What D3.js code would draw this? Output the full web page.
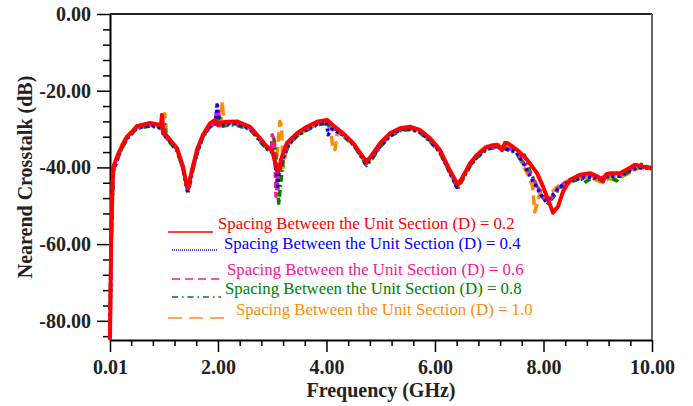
<!DOCTYPE html>
<html>
<head>
<meta charset="utf-8">
<script src="https://cdn.jsdelivr.net/npm/d3@7"></script>
<style>
  body { margin: 0; background: #fff; }
  svg { display: block; font-family: "Liberation Serif", "Times New Roman", serif; }
</style>
</head>
<body>
<div id="chart"></div>
<script>
// series values, [frequency GHz, crosstalk dB]
var d02 = [[0.01,-85],[0.03,-60],[0.065,-40],[0.194,-35.5],[0.323,-32],[0.434,-30.5],[0.508,-29.2],[0.692,-28.6],[0.747,-28.4],[0.895,-28.8],[0.95,-29],[0.968,-26.3],[0.987,-31.2],[1.04,-31.5],[1.116,-32.8],[1.245,-35],[1.356,-39.8],[1.429,-45],[1.448,-45.5],[1.522,-40.6],[1.614,-35.4],[1.724,-31.5],[1.853,-28.5],[1.946,-27.6],[2.0,-29],[2.07,-28.3],[2.167,-28.1],[2.35,-28],[2.59,-29.4],[2.775,-32.4],[2.904,-34.6],[2.996,-35.5],[3.088,-40.6],[3.107,-41.3],[3.18,-37.2],[3.27,-33.6],[3.457,-31.1],[3.64,-29.4],[3.826,-28.1],[4.01,-27.6],[4.12,-29],[4.305,-31.1],[4.49,-33.6],[4.67,-37.2],[4.73,-38.5],[4.8,-37.5],[4.99,-33.7],[5.17,-31.1],[5.356,-29.8],[5.54,-29.4],[5.72,-30.2],[5.91,-32.4],[6.09,-35.4],[6.24,-39.8],[6.37,-43.2],[6.425,-44.5],[6.517,-42.4],[6.646,-38.9],[6.775,-36.7],[6.96,-34.6],[7.144,-34.1],[7.236,-35.5],[7.29,-33.6],[7.346,-33.7],[7.512,-35.4],[7.697,-38],[7.881,-41.5],[7.992,-45],[8.084,-48.4],[8.176,-51.8],[8.268,-50.2],[8.36,-46.3],[8.49,-43.2],[8.674,-41.9],[8.858,-41.5],[9.005,-42.4],[9.097,-43.7],[9.15,-41.8],[9.226,-41.5],[9.41,-41.5],[9.595,-40.1],[9.687,-39.3],[9.835,-39.8],[10,-40.1]];

var d04 = [[0.01,-85],[0.03,-60],[0.065,-41],[0.19,-36],[0.32,-32.5],[0.5,-29.8],[0.75,-29],[0.9,-29.5],[0.97,-30],[1.0,-31.5],[1.12,-33.3],[1.25,-35.5],[1.36,-40.5],[1.44,-46.5],[1.52,-41],[1.62,-36],[1.72,-32],[1.85,-29.3],[1.95,-28.5],[1.99,-23.8],[2.02,-29],[2.17,-28.6],[2.35,-28.6],[2.6,-30],[2.78,-33],[2.9,-35],[3.0,-36],[3.05,-38],[3.1,-45],[3.13,-41],[3.2,-37.5],[3.3,-34],[3.46,-31.6],[3.65,-30],[3.83,-28.7],[4.0,-28.3],[4.03,-31.5],[4.1,-30],[4.3,-31.5],[4.5,-34],[4.67,-37.7],[4.72,-39.2],[4.8,-38],[5.0,-34.3],[5.17,-31.7],[5.36,-30.2],[5.54,-29.9],[5.72,-30.7],[5.9,-32.9],[6.09,-35.9],[6.24,-40.3],[6.4,-45.2],[6.5,-42.8],[6.65,-39.4],[6.78,-37.2],[6.96,-35],[7.14,-34.6],[7.25,-35],[7.5,-35.9],[7.65,-39.5],[7.8,-43.5],[7.95,-47],[8.05,-49],[8.15,-47.5],[8.3,-45],[8.5,-43.6],[8.7,-42.5],[8.9,-42.5],[9.05,-43],[9.2,-42.3],[9.4,-42.3],[9.6,-40.8],[9.75,-40],[10,-40.3]];

var d06 = [[0.01,-85],[0.03,-60],[0.065,-41],[0.19,-35.8],[0.32,-32.3],[0.5,-29.6],[0.75,-28.8],[0.9,-29.3],[0.96,-29.5],[0.98,-27.5],[1.0,-31],[1.12,-33.2],[1.25,-35.4],[1.36,-40.3],[1.44,-46],[1.52,-41],[1.62,-36],[1.72,-32],[1.85,-29.2],[1.95,-28.6],[1.98,-23.6],[2.01,-24.5],[2.03,-29],[2.17,-28.5],[2.35,-28.5],[2.6,-29.8],[2.78,-32.8],[2.9,-34.8],[2.98,-35.5],[3.0,-31.5],[3.04,-33],[3.07,-47.5],[3.1,-44],[3.15,-38],[3.2,-37.3],[3.3,-33.8],[3.46,-31.4],[3.65,-29.8],[3.83,-28.5],[4.0,-28.1],[4.1,-29.8],[4.3,-31.4],[4.5,-33.9],[4.67,-37.5],[4.72,-39],[4.8,-37.8],[5.0,-34.1],[5.17,-31.5],[5.36,-30],[5.54,-29.7],[5.72,-30.5],[5.9,-32.7],[6.09,-35.7],[6.24,-40.1],[6.4,-44.8],[6.5,-42.6],[6.65,-39.2],[6.78,-36.9],[6.96,-34.9],[7.14,-34.5],[7.3,-34.8],[7.5,-35.8],[7.65,-39.2],[7.8,-42.8],[7.95,-46.5],[8.05,-48.8],[8.15,-47.8],[8.3,-44.8],[8.5,-43.2],[8.7,-42.3],[8.9,-42.2],[9.05,-42.8],[9.2,-42],[9.4,-42],[9.6,-40.6],[9.75,-39.7],[10,-40.2]];

var d08 = [[0.01,-85],[0.03,-61],[0.065,-41.5],[0.19,-36.2],[0.32,-32.6],[0.5,-29.9],[0.75,-29.2],[0.9,-29.6],[0.98,-29.8],[1.01,-28.5],[1.04,-32],[1.12,-33.6],[1.25,-35.8],[1.36,-40.8],[1.45,-46.6],[1.53,-41.2],[1.62,-36.2],[1.72,-32.2],[1.85,-29.5],[1.95,-28.8],[2.03,-26.8],[2.06,-29.4],[2.2,-28.9],[2.35,-29],[2.6,-30.2],[2.78,-33.3],[2.9,-35.3],[3.0,-36.2],[3.03,-32.5],[3.07,-37],[3.12,-49.7],[3.15,-45],[3.2,-38],[3.3,-34.2],[3.46,-31.8],[3.65,-30.2],[3.83,-28.9],[4.0,-28.5],[4.08,-29.5],[4.2,-30.3],[4.3,-31.7],[4.5,-34.2],[4.67,-37.9],[4.74,-39.5],[4.82,-38.2],[5.0,-34.5],[5.17,-31.9],[5.36,-30.4],[5.54,-30.1],[5.72,-30.9],[5.9,-33.1],[6.09,-36.1],[6.24,-40.5],[6.42,-45.5],[6.52,-43],[6.65,-39.6],[6.78,-37.4],[6.96,-35.2],[7.14,-34.8],[7.3,-35.2],[7.5,-36.2],[7.6,-38.5],[7.65,-36.8],[7.75,-41],[7.85,-44],[7.95,-47.3],[8.08,-49.3],[8.18,-47.8],[8.3,-45.3],[8.5,-43.8],[8.7,-42.8],[8.75,-44],[8.9,-42.7],[9.05,-43.2],[9.2,-42.5],[9.35,-43.5],[9.4,-42.5],[9.6,-41],[9.75,-40],[9.8,-39.2],[10,-40.4]];

var d10 = [[0.01,-85],[0.03,-58],[0.065,-40],[0.19,-35],[0.32,-31.8],[0.5,-29.4],[0.75,-28.9],[0.9,-29.2],[0.98,-29.5],[1.02,-26],[1.06,-32],[1.12,-33.4],[1.25,-35.6],[1.36,-40.4],[1.44,-45.8],[1.52,-40.8],[1.62,-35.8],[1.72,-31.8],[1.85,-29.1],[1.95,-28.7],[2.05,-29.2],[2.08,-22.8],[2.11,-28.8],[2.2,-28.6],[2.35,-28.7],[2.6,-30],[2.78,-33],[2.9,-35],[3.0,-36],[3.08,-38],[3.14,-28],[3.17,-29],[3.2,-40],[3.25,-36],[3.3,-34],[3.46,-31.6],[3.65,-30],[3.83,-28.7],[4.0,-28.3],[4.08,-30.2],[4.12,-35.5],[4.16,-35.3],[4.2,-30.8],[4.3,-31.5],[4.5,-34],[4.67,-37.7],[4.72,-39.2],[4.8,-38],[5.0,-34.3],[5.17,-31.7],[5.36,-30.2],[5.54,-29.9],[5.72,-30.7],[5.9,-32.9],[6.09,-35.9],[6.24,-40.3],[6.4,-45],[6.5,-42.8],[6.65,-39.4],[6.78,-36.5],[6.96,-34.2],[7.14,-34],[7.3,-34.5],[7.5,-35.7],[7.62,-39.5],[7.72,-42],[7.8,-45],[7.84,-51.6],[7.87,-50],[7.95,-46],[8.05,-48.5],[8.15,-46.5],[8.3,-44.5],[8.5,-43.2],[8.7,-42.6],[8.9,-42.8],[9.05,-43.8],[9.2,-43],[9.4,-42.8],[9.6,-41.3],[9.75,-40.2],[10,-40.4]];

var labels = ["Spacing Between the Unit Section (D) = 0.2",
              "Spacing Between the Unit Section (D) = 0.4",
              "Spacing Between the Unit Section (D) = 0.6",
              "Spacing Between the Unit Section (D) = 0.8",
              "Spacing Between the Unit Section (D) = 1.0"];
var colors = ["#ff0000", "#0000ff", "#ff1493", "#008000", "#ff8c00"];
var xMajor = [0.01, 2, 4, 6, 8, 10];
var xMinor = [0.4, 0.8, 1.2, 1.6, 2.4, 2.8, 3.2, 3.6, 4.4, 4.8, 5.2, 5.6, 6.4, 6.8, 7.2, 7.6, 8.4, 8.8, 9.2, 9.6];
var yMajor = [0, -20, -40, -60, -80];
var yMinor = [-4, -8, -12, -16, -24, -28, -32, -36, -44, -48, -52, -56, -64, -68, -72, -76, -84];

var width = 693, height = 406;
var margin = {top: 14, right: 41, bottom: 66, left: 110};

var svg = d3.select("#chart").append("svg")
    .attr("width", width)
    .attr("height", height);

var x = d3.scaleLinear()
    .domain([0.01, 10])
    .range([margin.left, width - margin.right]);

var y = d3.scaleLinear()
    .domain([-85, 0])
    .range([height - margin.bottom, margin.top]);

// minor ticks first, then majors with labels
svg.append("g")
    .attr("transform", "translate(0," + (height - margin.bottom) + ")")
    .call(d3.axisBottom(x).tickValues(xMinor).tickSize(6).tickFormat(""))
    .call(g => g.select(".domain").remove())
    .selectAll("line").attr("stroke-width", 1.5);

svg.append("g")
    .attr("transform", "translate(0," + (height - margin.bottom) + ")")
    .call(d3.axisBottom(x).tickValues(xMajor).tickSize(12).tickSizeOuter(0)
        .tickFormat(d => d.toFixed(2)))
    .call(g => g.select(".domain").attr("stroke-width", 2))
    .call(g => g.selectAll("line").attr("stroke-width", 1.5))
    .call(g => g.selectAll("text")
        .attr("font-family", "Liberation Serif, serif")
        .attr("font-weight", "bold")
        .attr("font-size", 20)
        .attr("fill", "#222")
        .attr("dy", "0.95em"));

svg.append("g")
    .attr("transform", "translate(" + margin.left + ",0)")
    .call(d3.axisLeft(y).tickValues(yMinor).tickSize(7).tickFormat(""))
    .call(g => g.select(".domain").remove())
    .selectAll("line").attr("stroke-width", 1.5);

svg.append("g")
    .attr("transform", "translate(" + margin.left + ",0)")
    .call(d3.axisLeft(y).tickValues(yMajor).tickSize(13).tickSizeOuter(0)
        .tickFormat(d => d.toFixed(2)))
    .call(g => g.select(".domain").attr("stroke-width", 2))
    .call(g => g.selectAll("line").attr("stroke-width", 1.5))
    .call(g => g.selectAll("text")
        .attr("font-family", "Liberation Serif, serif")
        .attr("font-weight", "bold")
        .attr("font-size", 20)
        .attr("fill", "#222")
        .attr("x", -19));

// frame: top and right
svg.append("line")
    .attr("x1", x(0.01)).attr("x2", x(10))
    .attr("y1", y(0)).attr("y2", y(0))
    .attr("stroke", "#222").attr("stroke-width", 2);
svg.append("line")
    .attr("x1", x(10)).attr("x2", x(10))
    .attr("y1", y(0)).attr("y2", y(-85))
    .attr("stroke", "#666").attr("stroke-width", 2);

// axis titles
svg.append("text")
    .attr("x", (x(0.01) + x(10)) / 2)
    .attr("y", 397)
    .attr("text-anchor", "middle")
    .attr("font-weight", "bold")
    .attr("font-size", 20)
    .attr("fill", "#222")
    .text("Frequency (GHz)");

svg.append("text")
    .attr("transform", "translate(32," + ((y(0) + y(-85)) / 2) + ") rotate(-90)")
    .attr("text-anchor", "middle")
    .attr("font-weight", "bold")
    .attr("font-size", 20)
    .attr("fill", "#222")
    .text("Nearend Crosstalk (dB)");

// curves
var line = d3.line()
    .x(d => x(d[0]))
    .y(d => y(d[1]));

var series = [
    {data: d10, color: colors[4], dash: "10,5", w: 3.5},
    {data: d08, color: colors[3], dash: "7,3,2,3", w: 3.5},
    {data: d06, color: colors[2], dash: "6,4", w: 3.5},
    {data: d04, color: colors[1], dash: "3,3", w: 3.5},
    {data: d02, color: colors[0], dash: null, w: 4}
];

svg.append("g")
    .selectAll("path")
    .data(series)
    .enter().append("path")
    .attr("d", d => line(d.data))
    .attr("fill", "none")
    .attr("stroke", d => d.color)
    .attr("stroke-width", d => d.w)
    .attr("stroke-linejoin", "round")
    .attr("stroke-dasharray", d => d.dash);

// legend: sample line + text per row
var legend = [
    {x1: 168, x2: 213, ly: 232, tx: 218, ty: 229, dash: null},
    {x1: 172, x2: 218, ly: 250, tx: 224, ty: 249, dash: "1,1"},
    {x1: 172, x2: 222, ly: 279, tx: 227, ty: 275, dash: "8,5"},
    {x1: 172, x2: 221, ly: 297, tx: 225, ty: 294, dash: "6,4,1.5,4"},
    {x1: 168, x2: 231, ly: 318, tx: 236, ty: 315, dash: "14,7"}
];

var lg = svg.append("g")
    .selectAll("g")
    .data(legend)
    .enter().append("g");

lg.append("line")
    .attr("x1", d => d.x1).attr("x2", d => d.x2)
    .attr("y1", d => d.ly).attr("y2", d => d.ly)
    .attr("stroke", (d, i) => colors[i])
    .attr("stroke-width", 1.5)
    .attr("stroke-dasharray", d => d.dash);

lg.append("text")
    .attr("x", d => d.tx)
    .attr("y", d => d.ty)
    .attr("font-size", 16.8)
    .attr("fill", (d, i) => colors[i])
    .text((d, i) => labels[i]);
</script>
</body>
</html>
